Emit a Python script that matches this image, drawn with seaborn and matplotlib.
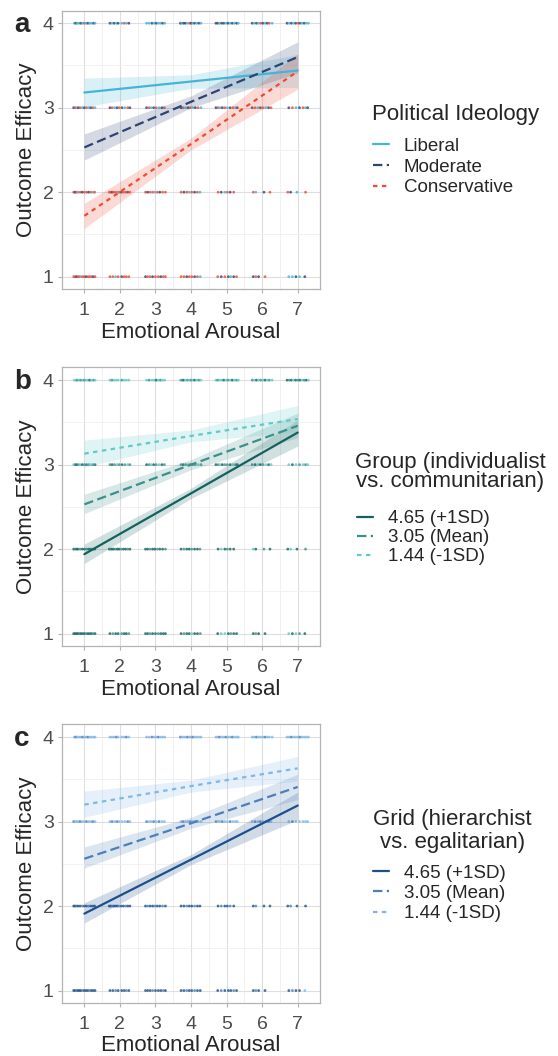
import numpy as np
import pandas as pd
import seaborn as sns
import matplotlib.pyplot as plt

# raw responses: jittered arousal values at each outcome efficacy level
# token = "x:abc" -> a = ideology code (L/M/C), b = group code, c = grid code (H/M/L)
pts_y4 = ("0.72:LLL 0.76:MLM 0.80:LML 0.85:LLL 0.90:MML 0.95:LLM 1.00:CML 1.05:LLL 1.10:MLM 1.15:LHL "
          "1.20:LLL 1.26:MML 1.30:LLL "
          "1.72:MLL 1.78:LML 1.84:MLL 1.90:LLM 1.95:MLL 2.05:LML 2.12:CLL 2.18:LLM 2.25:MLL "
          "2.75:LLL 2.82:LML 2.90:MLM 2.96:LLL 3.02:MHL 3.08:LLM 3.14:LML 3.20:MLL 3.26:LLL "
          "3.70:MLM 3.74:LML 3.79:MHL 3.84:MLL 3.90:LMM 3.96:CLL 4.00:MML 4.05:LLM 4.10:MHL 4.16:LLL 4.22:MML 4.28:LLL "
          "4.70:MLL 4.75:MML 4.80:LLM 4.86:MLL 4.92:MHL 4.98:LLM 5.04:MML 5.10:LLL 5.16:MHM 5.22:LLL 5.28:MML 5.33:LLL "
          "5.72:MML 5.78:LLL 5.84:MHM 5.90:LLL 5.96:CML 6.02:MLL 6.08:LHM 6.14:MLL 6.20:CML 6.28:LLL "
          "6.70:MHL 6.76:LML 6.82:MHM 6.88:LLL 6.94:MHL 7.00:CML 7.06:MHM 7.12:LLL 7.18:MML 7.24:LHL 7.30:LLL")
pts_y3 = ("0.70:MLM 0.74:CML 0.78:LHL 0.83:MML 0.88:CLM 0.94:LHL 1.00:MML 1.06:CHM 1.12:LML 1.18:MLL 1.24:CMM 1.30:LHL "
          "1.72:MML 1.78:CHM 1.85:LML 1.92:MLM 1.98:CML 2.06:MHL 2.14:LML 2.22:CLM 2.28:MML "
          "2.75:MHM 2.82:CML 2.88:LLL 2.95:MHM 3.02:CML 3.10:LLM 3.18:MHL 3.25:CML "
          "3.72:MML 3.78:CHM 3.85:LML 3.92:MLL 3.98:CHM 4.05:LML 4.12:MMM 4.20:CLL 4.28:LML "
          "4.70:MHM 4.76:CML 4.82:LLL 4.88:MHM 4.95:CML 5.02:LML 5.10:MHM 5.18:CLL 5.25:LML 5.30:MHL "
          "5.72:MML 5.80:CHM 5.88:LLL 5.95:MHM 6.02:CML 6.10:LLL 6.18:MHM 6.25:CLL "
          "6.75:MLL 6.85:CHM 6.95:LLL 7.05:MML 7.15:CLL 7.22:LML 7.28:MLL")
pts_y2 = ("0.70:CHH 0.74:MMH 0.78:CHM 0.82:LHH 0.88:CMH 0.94:MHM 1.00:CHH 1.06:CMH 1.12:MHM 1.18:CHH 1.24:LMH 1.29:CHH "
          "1.70:CHH 1.74:CMH 1.78:MHM 1.83:CHH 1.88:CMH 1.93:LHH 1.98:CHM 2.04:MMH 2.10:CHH 2.16:CHM 2.22:MMH 2.28:CHH "
          "2.72:CHH 2.78:MHM 2.85:CMH 2.92:CHH 2.98:LHM 3.05:CMH 3.12:MHH 3.20:CHM 3.28:CMH "
          "3.72:CHH 3.80:MMH 3.88:CHM 3.95:LHH 4.02:CMH 4.10:MHM 4.18:CHH 4.25:LMH "
          "4.76:CHH 4.85:MLM 4.95:LHH 5.02:CMH 5.10:MHM 5.20:CHH "
          "5.75:CLH 5.82:LHM 6.05:MMH 6.22:CHH "
          "6.72:CHH 6.80:MLM 6.98:LHH 7.22:CMH")
pts_y1 = ("0.70:CHH 0.74:CHH 0.78:MHM 0.82:CHH 0.86:CMH 0.90:LHH 0.95:CHM 1.00:CHH 1.05:MMH 1.10:CHH 1.15:CHM "
          "1.20:CHH 1.25:MMH 1.30:CHH "
          "1.72:CHH 1.80:CMH 1.88:LHM 1.95:CHH 2.05:MMH 2.12:CHH 2.18:CHM 2.25:CMH "
          "2.72:MHH 2.78:CHH 2.85:CMH 2.92:MHM 3.00:CHH 3.08:CMH 3.15:MHH 3.22:CHM 3.28:CHH "
          "3.72:CHH 3.80:CMH 3.88:MHM 3.95:CHH 4.02:CLH 4.10:MHM 4.18:CHH 4.26:LMH "
          "4.75:CHH 4.85:MLM 4.95:CLH 5.05:MHH 5.12:LMH 5.20:MHM 5.28:CHH "
          "5.75:MHH 5.82:CMM 5.90:MHH 6.08:CHH "
          "6.75:LLH 6.85:LHM 6.95:MLH 7.05:LMH 7.20:MHL")

# fitted lines and 95% CI at arousal = 1, 4, 7
fit_x = [1, 4, 7]
ideology_fit = {"Liberal": [3.18, 3.31, 3.44], "Moderate": [2.53, 3.07, 3.60], "Conservative": [1.72, 2.57, 3.43]}
ideology_lo = {"Liberal": [3.01, 3.23, 3.24], "Moderate": [2.38, 3.00, 3.41], "Conservative": [1.57, 2.50, 3.22]}
ideology_hi = {"Liberal": [3.35, 3.39, 3.63], "Moderate": [2.69, 3.14, 3.78], "Conservative": [1.87, 2.64, 3.64]}

sd_labels = ["4.65 (+1SD)", "3.05 (Mean)", "1.44 (-1SD)"]
group_fit = {"4.65 (+1SD)": [1.94, 2.66, 3.38], "3.05 (Mean)": [2.53, 3.00, 3.46], "1.44 (-1SD)": [3.13, 3.34, 3.54]}
group_lo = {"4.65 (+1SD)": [1.83, 2.60, 3.22], "3.05 (Mean)": [2.42, 2.94, 3.32], "1.44 (-1SD)": [2.97, 3.27, 3.39]}
group_hi = {"4.65 (+1SD)": [2.06, 2.72, 3.53], "3.05 (Mean)": [2.65, 3.06, 3.61], "1.44 (-1SD)": [3.29, 3.41, 3.70]}

grid_fit = {"4.65 (+1SD)": [1.91, 2.55, 3.19], "3.05 (Mean)": [2.56, 2.98, 3.41], "1.44 (-1SD)": [3.20, 3.42, 3.63]}
grid_lo = {"4.65 (+1SD)": [1.80, 2.49, 3.02], "3.05 (Mean)": [2.45, 2.92, 3.26], "1.44 (-1SD)": [3.05, 3.35, 3.48]}
grid_hi = {"4.65 (+1SD)": [2.04, 2.61, 3.35], "3.05 (Mean)": [2.70, 3.05, 3.56], "1.44 (-1SD)": [3.36, 3.49, 3.77]}

# build the raw point table
rows = []
for level, s in [(4, pts_y4), (3, pts_y3), (2, pts_y2), (1, pts_y1)]:
    for tok in s.split():
        xv, codes = tok.split(":")
        rows.append({"arousal": float(xv), "efficacy": level,
                     "ideo": codes[0], "group": codes[1], "grid": codes[2]})
raw = pd.DataFrame(rows)

sns.set_theme(style="whitegrid")
plt.rcParams["font.family"] = ["Liberation Sans", "DejaVu Sans"]

ideo_cols = {"Liberal": "#45B4D6", "Moderate": "#2F4373", "Conservative": "#EE4A35"}
group_cols = {"4.65 (+1SD)": "#15615F", "3.05 (Mean)": "#3C8F8A", "1.44 (-1SD)": "#62C8C8"}
grid_cols = {"4.65 (+1SD)": "#1D4F8B", "3.05 (Mean)": "#4E7EB8", "1.44 (-1SD)": "#7FB7E6"}
styles = ["-", (0, (4.2, 2.0)), (0, (2.0, 2.0))]

fig = plt.figure(figsize=(5.58, 10.56), dpi=100)

# (letter, axes bottom, code column, code map, colours, fits, title, title pos, title linespacing, legend anchor, row spacing)
panels = [
    ("a", 0.726, "ideo", dict(zip("LMC", ideo_cols.keys())), ideo_cols,
     ideology_fit, ideology_lo, ideology_hi, "Political Ideology", (0.6667, 0.8916), 1.0,
     (0.6685, 0.8419), 0.2),
    ("b", 0.388, "group", dict(zip("HML", sd_labels)), group_cols,
     group_fit, group_lo, group_hi, "Group (individualist\nvs. communitarian)", (0.636, 0.553), 0.92,
     (0.6398, 0.4910), 0.1),
    ("c", 0.050, "grid", dict(zip("HML", sd_labels)), grid_cols,
     grid_fit, grid_lo, grid_hi, "Grid (hierarchist\nvs. egalitarian)", (0.6685, 0.2131), 1.1,
     (0.6685, 0.1539), 0.17),
]

for (letter, bottom, col, code_map, cols, fit, lo, hi, title, tpos, tls,
     leg_pos, lsp) in panels:
    ax = fig.add_axes([0.111, bottom, 0.4627, 0.264])
    df = raw.assign(lvl=raw[col].map(code_map))
    sns.scatterplot(data=df, x="arousal", y="efficacy", hue="lvl", palette=cols,
                    s=4, linewidth=0, alpha=0.8, legend=False, ax=ax, zorder=2)
    handles = []
    for name, ls in zip(cols.keys(), styles):
        ax.fill_between(fit_x, lo[name], hi[name], color=cols[name], alpha=0.2, lw=0, zorder=3)
        sns.lineplot(x=fit_x, y=fit[name], color=cols[name], linestyle=ls, lw=1.6, ax=ax, zorder=4)
        handles.append(plt.Line2D([], [], color=cols[name], linestyle=ls, lw=1.6, label=name))

    ax.set_xlim(0.37, 7.63)
    ax.set_ylim(0.85, 4.15)
    ax.set_xticks(range(1, 8))
    ax.set_yticks([1, 2, 3, 4])
    ax.set_xticks(np.arange(1.5, 7, 1), minor=True)
    ax.set_yticks([1.5, 2.5, 3.5], minor=True)
    ax.grid(which="major", color="#DEDEDE", lw=0.8)
    ax.grid(which="minor", color="#EFEFEF", lw=0.6)
    for sp in ax.spines.values():
        sp.set_color("#B3B3B3")
        sp.set_linewidth(0.9)
    ax.tick_params(which="major", length=3, width=0.8, color="#B3B3B3",
                   labelsize=14, labelcolor="#4D4D4D", pad=3, bottom=True, left=True)
    ax.tick_params(axis="x", which="major", pad=6)
    ax.tick_params(which="minor", length=0)
    ax.set_xlabel("Emotional Arousal", fontsize=16, labelpad=2)
    ax.set_ylabel("Outcome Efficacy", fontsize=16, labelpad=4)
    ax.text(-0.185, 0.995, letter, transform=ax.transAxes, fontsize=20, fontweight="bold",
            ha="left", va="top")

    fig.text(tpos[0], tpos[1], title, fontsize=16, ha="left", va="center",
             multialignment="center", linespacing=tls)
    fig.legend(handles=handles, loc="center left", bbox_to_anchor=leg_pos,
               frameon=False, fontsize=13.5, handlelength=0.85,
               handletextpad=0.8, labelspacing=lsp, borderpad=0, borderaxespad=0)

fig.savefig("out.png", dpi=100)
